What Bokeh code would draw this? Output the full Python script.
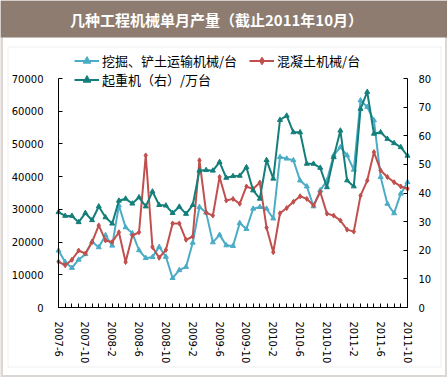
import math
from bokeh.plotting import figure
from bokeh.models import (Range1d, LinearAxis, FixedTicker, Legend, LegendItem,
                          BoxAnnotation, Label, ColumnDataSource)
from bokeh.embed import file_html
from bokeh.resources import INLINE

# ---- data (monthly, 2007-6 .. 2011-10) ----
month_index = list(range(53))
tick_labels = ["2007-6", "2007-10", "2008-2", "2008-6", "2008-10", "2009-2", "2009-6",
               "2009-10", "2010-2", "2010-6", "2010-10", "2011-2", "2011-6", "2011-10"]
excavator = [17400, 13900, 12100, 14600, 16300, 20100, 18400, 22100, 18900, 31200,
             24500, 22700, 17500, 15100, 15400, 18500, 15500, 9000, 11400, 12400,
             19800, 30700, 29000, 19900, 22200, 19000, 18800, 25800, 24000, 30200,
             30700, 30200, 27200, 46000, 45500, 45000, 38800, 37000, 30900, 35800,
             38800, 46500, 49000, 46500, 42100, 63300, 61300, 57200, 39900, 31700,
             28800, 34800, 38300]
concrete = [14000, 12900, 14600, 17400, 16500, 20000, 25100, 20500, 20000, 23000,
            13900, 22000, 23000, 46500, 18500, 15200, 17600, 25700, 25700, 20700,
            21700, 45000, 29000, 28100, 39900, 32700, 33200, 31700, 37000, 36200,
            38200, 24400, 16900, 28800, 30400, 32300, 34000, 33200, 31200, 35300,
            28700, 28100, 26600, 23800, 23200, 34200, 38800, 47500, 41900, 39900,
            38300, 37000, 36300]
crane = [33.3, 32.0, 32.0, 29.8, 33.0, 30.5, 35.3, 31.5, 29.3, 37.3,
         38.0, 36.3, 38.5, 35.3, 40.5, 35.8, 35.6, 33.0, 35.2, 32.7,
         35.8, 47.8, 48.0, 47.8, 50.8, 45.3, 45.9, 46.0, 49.0, 40.9,
         38.0, 51.5, 45.0, 65.5, 67.0, 61.2, 61.2, 50.2, 50.2, 48.8,
         42.0, 52.5, 61.8, 44.4, 42.3, 69.4, 75.3, 60.7, 61.2, 58.9,
         57.4, 56.0, 53.0]
left_ticks = [0, 10000, 20000, 30000, 40000, 50000, 60000, 70000]
right_ticks = [0, 10, 20, 30, 40, 50, 60, 70, 80]
series_names = ["挖掘、铲土运输机械/台", "混凝土机械/台", "起重机（右）/万台"]
title_text = "几种工程机械单月产量（截止2011年10月）"

src = ColumnDataSource(dict(m=month_index, exc=excavator, con=concrete, cra=crane))

# ---- layout: frame covers whole canvas; axes pinned with fixed_location ----
W, H = 447, 377
FL, FR, FT, FB = 58, 407, 78, 307   # plot box (canvas px)
BROWN = "#8D7C6F"
C_EXC = "#4BACC6"
C_CON = "#C0504D"
C_CRA = "#147F7A"
TICK_FONT = "DejaVu Sans"

x_last = month_index[-1]
xpp = x_last / (FR - FL)
ypp = left_ticks[-1] / (FB - FT)
rpp = right_ticks[-1] / (FB - FT)

p = figure(width=W, height=H, output_backend="svg", toolbar_location=None,
           x_range=Range1d(-FL * xpp, x_last + (W - FR) * xpp),
           y_range=Range1d(-(H - FB) * ypp, left_ticks[-1] + FT * ypp),
           min_border_left=0, min_border_right=0, min_border_top=0, min_border_bottom=0)
p.extra_y_ranges = {"r": Range1d(-(H - FB) * rpp, right_ticks[-1] + FT * rpp)}
p.grid.visible = False
p.outline_line_color = None
p.background_fill_color = "white"
p.border_fill_color = "white"

# decorations (screen units, origin bottom-left of canvas)
def box(l, r, t, b, **kw):
    return BoxAnnotation(left=l, right=r, top=H - t, bottom=H - b,
                         left_units="screen", right_units="screen",
                         top_units="screen", bottom_units="screen", level="underlay", **kw)

p.add_layout(box(0, W, 0, 37, fill_color=BROWN, fill_alpha=1, line_color=None))
p.add_layout(box(7.5, 440.5, 46.5, 366.5, fill_color=None, line_color="#C8C8C8", line_width=1))
p.add_layout(box(0, W, 0, H, fill_color=None, line_color=BROWN, line_width=5))
p.add_layout(Label(x=216, y=H - 18.5, x_units="screen", y_units="screen",
                   text=title_text, text_align="center", text_baseline="middle",
                   text_color="white", text_font="Noto Sans CJK SC", text_font_style="bold",
                   text_font_size="15px"))

overrides = {i: "" for i in month_index}
for k, lab in enumerate(tick_labels):
    overrides[4 * k] = lab

xa = p.xaxis[0]
xa.fixed_location = 0
xa.bounds = (0, x_last)
xa.ticker = FixedTicker(ticks=month_index, minor_ticks=[])
xa.major_label_overrides = overrides
xa.major_label_orientation = -math.pi / 2
xa.major_label_standoff = 14

ya = p.yaxis[0]
ya.fixed_location = 0
ya.bounds = (0, left_ticks[-1])
ya.ticker = FixedTicker(ticks=left_ticks, minor_ticks=[])
ya.major_label_standoff = 15

yr = LinearAxis(y_range_name="r", fixed_location=x_last, bounds=(0, right_ticks[-1]),
                ticker=FixedTicker(ticks=right_ticks, minor_ticks=[]))
yr.major_label_standoff = 11
p.add_layout(yr, "right")

for ax in [xa, ya, yr]:
    ax.axis_line_color = "black"
    ax.axis_line_width = 1
    ax.major_tick_line_color = "black"
    ax.major_tick_in = 4
    ax.major_tick_out = 0
    ax.minor_tick_line_color = None
    ax.major_label_text_font = TICK_FONT
    ax.major_label_text_font_size = "10px"
    ax.major_label_text_color = "black"

# ---- series ----
l1 = p.line("m", "exc", source=src, color=C_EXC, line_width=2)
s1 = p.scatter("m", "exc", source=src, marker="triangle", size=5, color=C_EXC)
l2 = p.line("m", "con", source=src, color=C_CON, line_width=2)
s2 = p.scatter("m", "con", source=src, marker="diamond", size=5, color=C_CON)
l3 = p.line("m", "cra", source=src, color=C_CRA, line_width=2, y_range_name="r")
s3 = p.scatter("m", "cra", source=src, marker="triangle", size=5, color=C_CRA, y_range_name="r")

def style_legend(lg):
    lg.label_text_font = "Noto Sans CJK SC"
    lg.label_text_font_size = "13px"
    lg.label_text_color = "black"
    lg.glyph_width = 25
    lg.glyph_height = 19
    lg.label_height = 19
    lg.label_standoff = 3
    lg.padding = 0
    lg.margin = 0
    lg.border_line_color = None
    lg.background_fill_alpha = 0

# legend location = bottom-left corner (screen px from canvas bottom-left)
leg1 = Legend(items=[LegendItem(label=series_names[0], renderers=[l1, s1]),
                     LegendItem(label=series_names[1], renderers=[l2, s2])],
              orientation="horizontal", location=(74, H - 70), spacing=12)
leg2 = Legend(items=[LegendItem(label=series_names[2], renderers=[l3, s3])],
              orientation="horizontal", location=(74, H - 89), spacing=12)
style_legend(leg1)
style_legend(leg2)
p.add_layout(leg1)
p.add_layout(leg2)

open("out.html", "w").write(file_html(p, INLINE))
